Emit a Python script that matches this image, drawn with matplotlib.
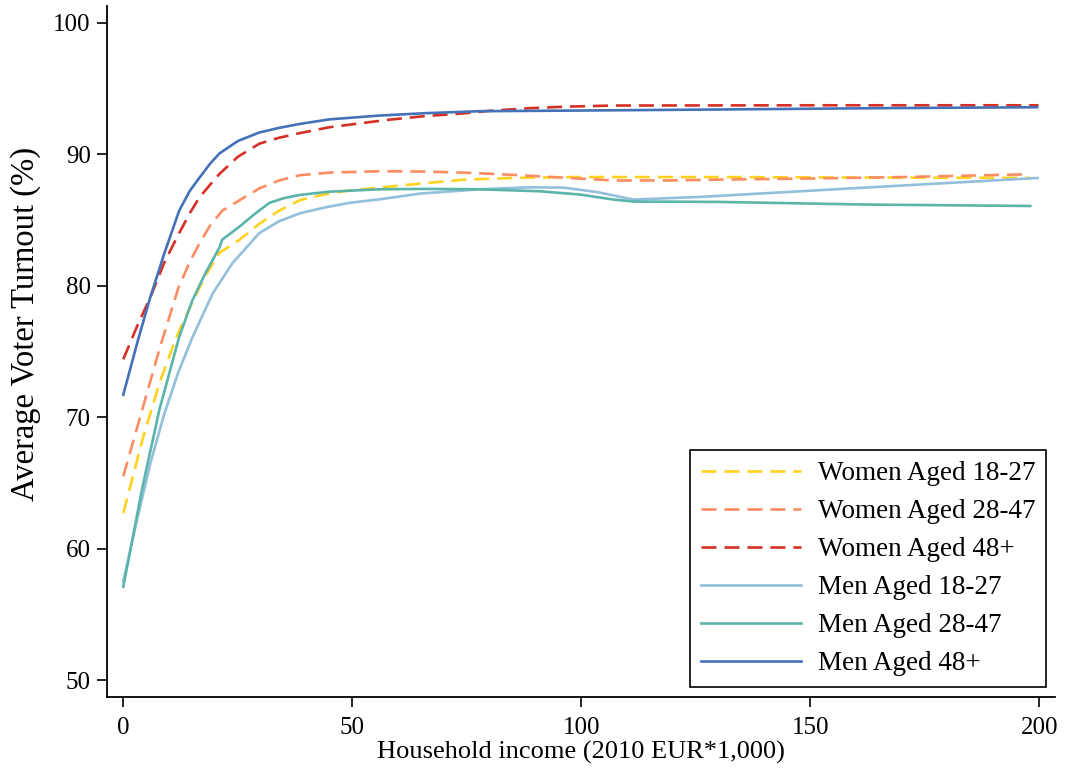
import matplotlib
matplotlib.use('Agg')
import matplotlib.pyplot as plt

# Women
w18_x = [0, 4.2, 7.9, 11.6, 15, 18, 21, 25.4, 29.7, 34, 38.5, 44, 49.4, 56, 64.7, 74.2, 85, 96, 130, 165, 198]
w18_y = [62.7, 68.3, 72.6, 76.1, 78.7, 80.8, 82.5, 83.5, 84.7, 85.7, 86.5, 86.95, 87.25, 87.46, 87.76, 88.06, 88.19, 88.26, 88.26, 88.22, 88.2]

w28_x = [0, 4, 8, 12, 14.5, 16.6, 19, 21.6, 25.4, 29.7, 34, 38.5, 45, 56, 66, 76.4, 86.6, 96.8, 107, 118, 129, 148, 170, 197.3]
w28_y = [65.5, 70.4, 75.3, 79.8, 81.8, 83.2, 84.6, 85.7, 86.5, 87.4, 88.0, 88.4, 88.6, 88.7, 88.68, 88.57, 88.4, 88.2, 88.0, 88.0, 88.06, 88.14, 88.26, 88.47]

w48_x = [0, 3, 6, 9, 12.2, 14.5, 16.6, 19, 21, 25, 29.7, 34, 38.5, 45, 57.4, 66, 74.2, 80, 88.7, 97, 107, 150, 199.8]
w48_y = [74.4, 76.9, 79.2, 81.8, 84.0, 85.5, 86.7, 87.7, 88.5, 89.8, 90.8, 91.25, 91.6, 92.05, 92.6, 92.9, 93.1, 93.3, 93.5, 93.62, 93.7, 93.72, 93.72]

# Men
m18_x = [0, 3, 6, 9, 12, 15, 19.5, 23.8, 29.7, 34, 38.5, 44, 49.4, 56, 64.7, 77.8, 88.7, 96, 103.3, 111.3, 126, 162, 199.6]
m18_y = [57.5, 62.2, 66.6, 70.3, 73.4, 76.0, 79.4, 81.7, 84.0, 84.9, 85.5, 85.95, 86.3, 86.57, 87.0, 87.33, 87.48, 87.46, 87.13, 86.55, 86.75, 87.46, 88.19]

m28_x = [0, 4.2, 7.9, 12.2, 15.1, 18, 21, 21.6, 25.4, 28.5, 31.9, 35, 38.5, 45, 56, 66, 77.8, 90.9, 99.7, 107, 111.3, 130, 162, 198]
m28_y = [57.1, 64.7, 70.6, 76.1, 78.9, 81.0, 82.9, 83.5, 84.5, 85.4, 86.3, 86.65, 86.9, 87.15, 87.33, 87.36, 87.33, 87.18, 86.93, 86.55, 86.4, 86.37, 86.17, 86.06]

m48_x = [0, 3, 5.7, 9, 12.2, 14.5, 16.6, 19, 21, 25, 29.7, 34, 38.5, 45, 56, 66, 77.8, 99.7, 130, 165, 199.5]
m48_y = [71.7, 75.6, 78.9, 82.5, 85.7, 87.2, 88.2, 89.3, 90.06, 91.0, 91.65, 92.0, 92.3, 92.65, 92.94, 93.12, 93.27, 93.32, 93.4, 93.5, 93.57]

plt.rcParams['font.family'] = ['Liberation Serif', 'DejaVu Serif']

fig = plt.figure(figsize=(10.65, 7.72), dpi=100)
ax = fig.add_axes([0.1002, 0.0971, 0.8904, 0.8951])

dash = (0, (5.7, 3.0))
lw = 1.9
ax.plot(w18_x, w18_y, color='#FFD21F', lw=lw, ls=dash, label='Women Aged 18-27')
ax.plot(w28_x, w28_y, color='#FC8D62', lw=lw, ls=dash, label='Women Aged 28-47')
ax.plot(w48_x, w48_y, color='#D73027', lw=lw, ls=dash, label='Women Aged 48+')
ax.plot(m18_x, m18_y, color='#92BFDB', lw=lw, label='Men Aged 18-27')
ax.plot(m28_x, m28_y, color='#5AB4AA', lw=lw, label='Men Aged 28-47')
ax.plot(m48_x, m48_y, color='#4472B8', lw=lw, label='Men Aged 48+')

ax.set_xlim(-3.62, 203.4)
ax.set_ylim(48.71, 101.27)
ax.set_xticks([0, 50, 100, 150, 200])
ax.set_yticks([50, 60, 70, 80, 90, 100])
ax.spines['top'].set_visible(False)
ax.spines['right'].set_visible(False)
ax.spines['left'].set_linewidth(1.3)
ax.spines['bottom'].set_linewidth(1.3)
ax.tick_params(length=7.5, width=1.2, labelsize=18)
ax.tick_params(axis='x', pad=7)
ax.tick_params(axis='y', pad=4)

ax.set_xlabel('Household income (2010 EUR*1,000)', fontsize=19, labelpad=1)
ax.set_ylabel('Average Voter Turnout (%)', fontsize=23.5, va='center')
ax.yaxis.set_label_coords(-0.086, 0.54)

leg = ax.legend(loc='lower right', bbox_to_anchor=(0.9905, 0.0145), borderaxespad=0,
                fontsize=19.5, handlelength=3.7, handletextpad=0.6, labelspacing=0.48,
                fancybox=False, edgecolor='black', framealpha=1)
leg.get_frame().set_linewidth(1.2)

plt.savefig('out.png', dpi=100)
